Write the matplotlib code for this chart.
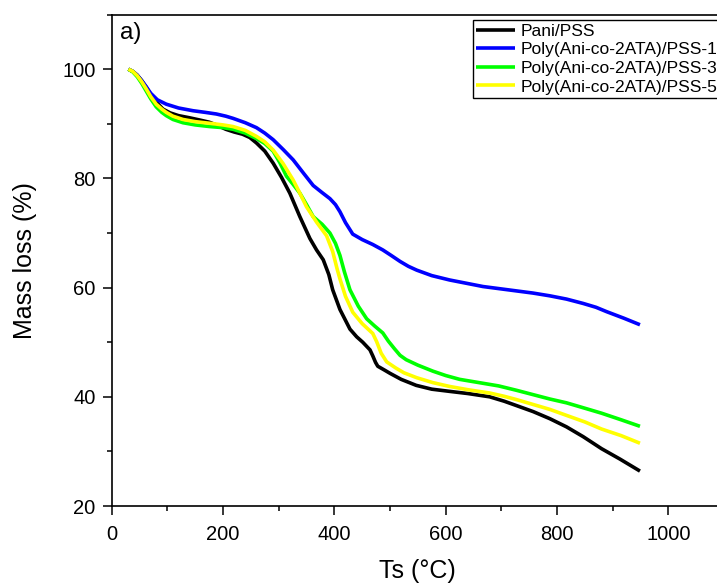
import matplotlib
matplotlib.use("Agg")
import matplotlib.pyplot as plt
from matplotlib.ticker import MultipleLocator

plt.rcParams['font.family'] = ['Liberation Sans', 'DejaVu Sans']

# data
pani_x = [30, 38, 46, 54, 62, 70, 80, 92, 105, 120, 140, 158, 175, 188, 205, 220, 235, 248, 260, 275, 290, 305, 320, 338, 356, 368, 380, 390, 397, 410, 428, 440, 451, 464, 469, 474, 478, 490, 500, 520, 547, 575, 607, 640, 679, 705, 727, 757, 787, 817, 847, 880, 913, 949]
pani_y = [100, 99.6, 98.9, 97.9, 96.7, 95.4, 94.0, 92.7, 92.0, 91.5, 91.1, 90.7, 90.3, 89.8, 89.0, 88.5, 88.1, 87.5, 86.5, 85.0, 82.8, 80.2, 77.3, 73.0, 69.0, 66.9, 65.1, 62.4, 59.6, 56.0, 52.4, 51.0, 50.0, 48.6, 47.5, 46.3, 45.6, 44.9, 44.3, 43.2, 42.1, 41.4, 41.0, 40.6, 40.0, 39.2, 38.4, 37.3, 36.0, 34.5, 32.7, 30.5, 28.6, 26.4]

pss1_x = [30, 38, 46, 54, 62, 70, 82, 98, 120, 146, 168, 188, 205, 218, 240, 260, 275, 290, 308, 326, 345, 362, 378, 392, 402, 410, 420, 433, 450, 469, 487, 502, 518, 533, 548, 575, 607, 637, 667, 697, 727, 757, 787, 817, 847, 870, 889, 920, 949]
pss1_y = [100, 99.6, 98.9, 97.9, 96.8, 95.6, 94.4, 93.6, 92.9, 92.4, 92.1, 91.8, 91.4, 91.0, 90.2, 89.3, 88.3, 87.1, 85.3, 83.4, 80.9, 78.7, 77.4, 76.3, 75.2, 73.9, 71.9, 69.8, 68.8, 67.9, 66.9, 65.9, 64.8, 63.9, 63.2, 62.2, 61.4, 60.8, 60.2, 59.8, 59.4, 59.0, 58.5, 57.9, 57.1, 56.4, 55.6, 54.4, 53.2]

pss3_x = [30, 38, 46, 54, 62, 70, 80, 90, 98, 110, 128, 150, 176, 200, 218, 240, 260, 275, 290, 302, 314, 326, 338, 350, 362, 378, 392, 402, 410, 418, 428, 443, 458, 472, 487, 497, 508, 518, 529, 550, 577, 600, 625, 660, 695, 727, 757, 787, 817, 847, 880, 915, 949]
pss3_y = [100, 99.5, 98.6, 97.4, 96.0, 94.6, 93.1, 92.1, 91.5, 90.8, 90.2, 89.8, 89.5, 89.3, 89.0, 88.3, 87.3, 86.4, 85.0, 82.9, 80.4, 78.9, 77.3, 75.2, 73.0, 71.6, 70.0, 68.1, 65.9, 62.9, 59.6, 56.6, 54.3, 53.0, 51.7, 50.2, 48.8, 47.6, 46.8, 45.8, 44.7, 43.9, 43.2, 42.6, 42.0, 41.2, 40.4, 39.6, 38.9, 38.0, 37.0, 35.8, 34.6]

pss5_x = [30, 38, 46, 54, 62, 70, 80, 90, 98, 110, 128, 150, 176, 200, 218, 240, 260, 275, 290, 308, 326, 338, 350, 368, 386, 397, 405, 410, 420, 433, 450, 469, 476, 484, 494, 510, 525, 548, 577, 607, 640, 679, 705, 727, 757, 787, 817, 850, 880, 915, 949]
pss5_y = [100, 99.6, 98.8, 97.7, 96.4, 95.0, 93.6, 92.7, 92.1, 91.4, 90.8, 90.4, 90.1, 89.8, 89.5, 88.8, 87.7, 86.7, 85.2, 82.7, 79.7, 77.3, 74.8, 72.0, 69.5, 66.6, 63.4, 61.6, 58.4, 55.5, 53.4, 51.6, 50.1, 48.0, 46.4, 45.3, 44.4, 43.5, 42.6, 41.9, 41.3, 40.7, 40.1, 39.5, 38.6, 37.7, 36.6, 35.4, 34.1, 32.9, 31.5]

labels = ['Pani/PSS', 'Poly(Ani-co-2ATA)/PSS-1', 'Poly(Ani-co-2ATA)/PSS-3', 'Poly(Ani-co-2ATA)/PSS-5']
colors = ['#000000', '#0000ff', '#00ff00', '#ffff00']

fig = plt.figure(figsize=(7.17, 5.85), dpi=100)
ax = fig.add_axes([0.1558, 0.135, 0.854, 0.840])

for xs, ys, lab, c in zip([pani_x, pss1_x, pss3_x, pss5_x],
                          [pani_y, pss1_y, pss3_y, pss5_y], labels, colors):
    ax.plot(xs, ys, color=c, lw=2.6, label=lab, solid_joinstyle='round', solid_capstyle='butt')

ax.set_xlim(0, 1100)
ax.set_ylim(20, 110)
ax.xaxis.set_major_locator(MultipleLocator(200))
ax.xaxis.set_minor_locator(MultipleLocator(100))
ax.yaxis.set_major_locator(MultipleLocator(20))
ax.yaxis.set_minor_locator(MultipleLocator(10))
ax.tick_params(which='major', direction='out', length=6.5, width=1.1, labelsize=14.5)
ax.tick_params(axis='x', which='major', pad=7)
ax.tick_params(axis='y', which='major', pad=5)
ax.tick_params(which='minor', direction='out', length=3.6, width=1.1)
for s in ax.spines.values():
    s.set_linewidth(1.2)

ax.set_xlabel('Ts (°C)', fontsize=18, labelpad=11)
ax.set_ylabel('Mass loss (%)', fontsize=18, labelpad=18)
ax.text(0.013, 0.985, 'a)', transform=ax.transAxes, fontsize=17.5, va='top', ha='left')

leg = ax.legend(loc='upper left', bbox_to_anchor=(0.59, 0.989), fontsize=12.5,
                frameon=True, fancybox=False, edgecolor='black', framealpha=1,
                borderpad=0.2, labelspacing=0.2, handlelength=2.2, handletextpad=0.35,
                borderaxespad=0)
leg.get_frame().set_linewidth(1.0)

fig.savefig('out.png', dpi=100)
